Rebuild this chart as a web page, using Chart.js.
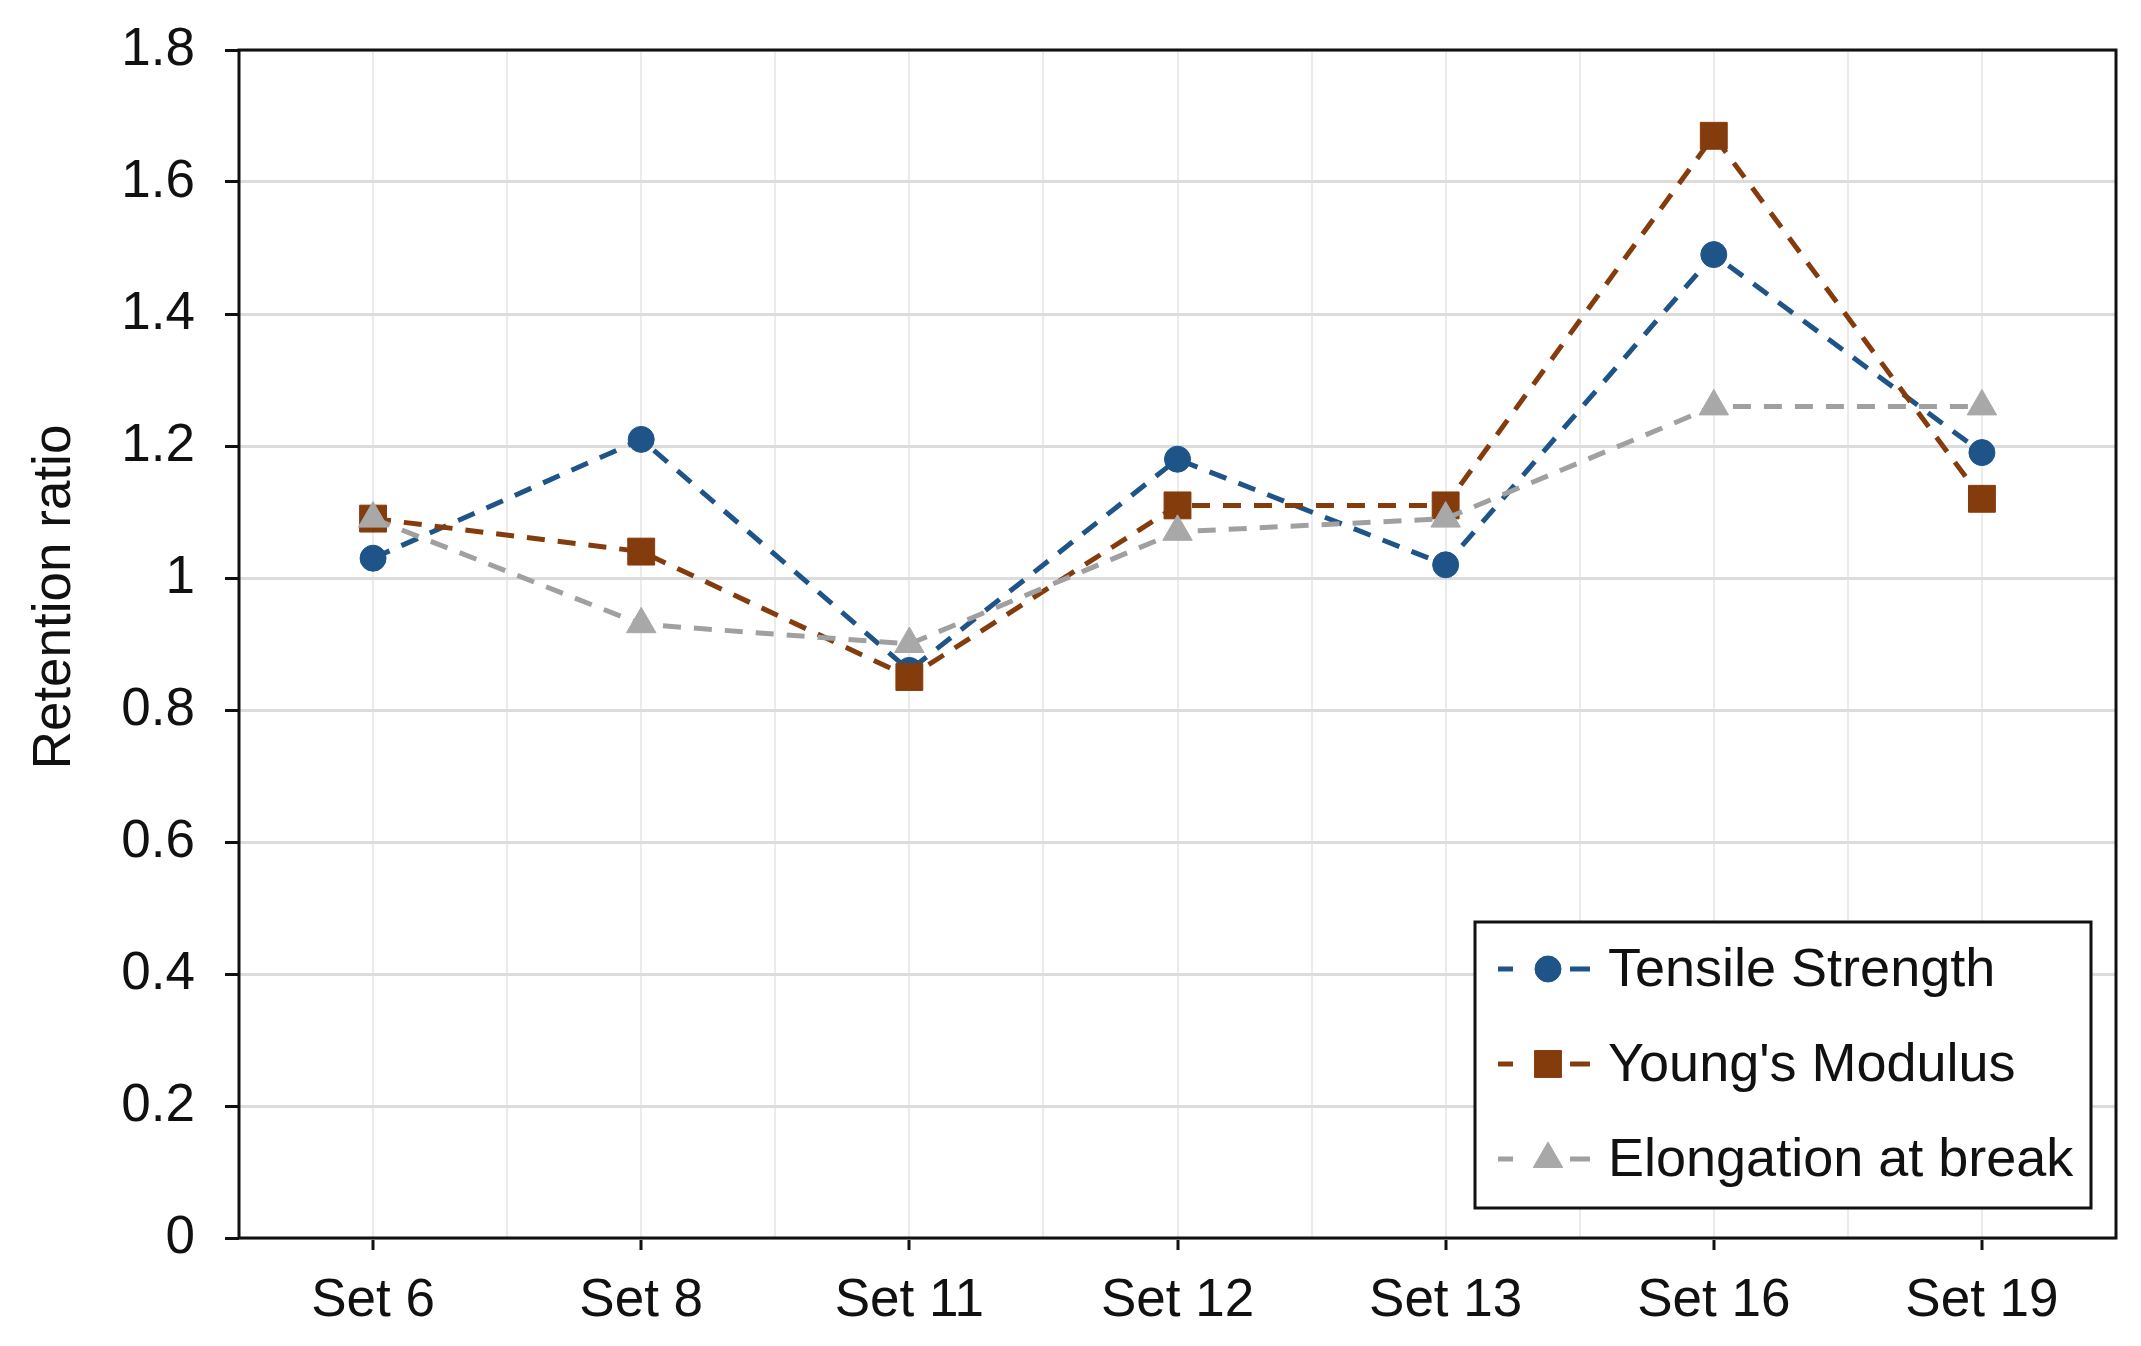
<!DOCTYPE html>
<html lang="en">
<head>
    <meta charset="UTF-8">
    <title>Retention ratio</title>
    <script src="https://cdn.jsdelivr.net/npm/chart.js"></script>
    <style>
        html, body { margin: 0; padding: 0; background: #fff; }
    </style>
</head>
<body>
    <canvas id="retentionChart" width="2141" height="1346"></canvas>
    <script>
        // categories and series
        const sets = ['Set 6', 'Set 8', 'Set 11', 'Set 12', 'Set 13', 'Set 16', 'Set 19'];
        const tensileStrength = [1.03, 1.21, 0.86, 1.18, 1.02, 1.49, 1.19];
        const youngsModulus = [1.09, 1.04, 0.85, 1.11, 1.11, 1.67, 1.12];
        const elongationAtBreak = [1.09, 0.93, 0.90, 1.07, 1.09, 1.26, 1.26];
        const yTicks = { min: 0, max: 1.8, step: 0.2 };
        const yTitle = 'Retention ratio';

        const FONT = '"Liberation Sans", Arial, sans-serif';
        const DASH = [18, 13];

        // black box around the plot area
        const framePlugin = {
            id: 'frame',
            beforeDatasetsDraw(chart) {
                const { ctx, chartArea: a } = chart;
                ctx.save();
                ctx.strokeStyle = '#111';
                ctx.lineWidth = 3;
                ctx.strokeRect(a.left, a.top, a.right - a.left, a.bottom - a.top);
                ctx.restore();
            }
        };

        // rotated y title, sits a little above the middle like in the figure
        const yTitlePlugin = {
            id: 'yTitle',
            afterDraw(chart) {
                const { ctx, chartArea: a } = chart;
                ctx.save();
                ctx.translate(55, (a.top + a.bottom) / 2 - 47);
                ctx.rotate(-Math.PI / 2);
                ctx.fillStyle = '#111';
                ctx.font = '53px ' + FONT;
                ctx.textAlign = 'center';
                ctx.textBaseline = 'middle';
                ctx.fillText(yTitle, 0, 0);
                ctx.restore();
            }
        };

        // legend with dashed line + marker, boxed, bottom right inside the plot
        const boxLegend = {
            id: 'boxLegend',
            afterDraw(chart) {
                const { ctx, chartArea: a } = chart;
                const w = 616, h = 286;
                const x0 = a.right - 25 - w, y0 = a.bottom - 30 - h;
                ctx.save();
                ctx.fillStyle = '#fff';
                ctx.fillRect(x0, y0, w, h);
                ctx.strokeStyle = '#111';
                ctx.lineWidth = 3;
                ctx.strokeRect(x0, y0, w, h);
                chart.data.datasets.forEach((ds, i) => {
                    const cy = y0 + 47 + i * 95;
                    const lx = x0 + 23, mx = x0 + 73;
                    ctx.strokeStyle = ds.borderColor;
                    ctx.lineWidth = ds.borderWidth;
                    ctx.setLineDash([]);
                    ctx.beginPath();
                    ctx.moveTo(lx, cy); ctx.lineTo(lx + 15, cy);
                    ctx.moveTo(mx + 22, cy); ctx.lineTo(mx + 42, cy);
                    ctx.stroke();
                    ctx.fillStyle = ds.pointBackgroundColor;
                    ctx.strokeStyle = ds.pointBackgroundColor;
                    ctx.lineWidth = 1;
                    Chart.helpers.drawPoint(ctx, {
                        pointStyle: ds.pointStyle,
                        radius: ds.pointRadius,
                        rotation: 0,
                        borderWidth: 1
                    }, mx, cy);
                    ctx.fillStyle = '#111';
                    ctx.font = '54px ' + FONT;
                    ctx.textBaseline = 'middle';
                    ctx.fillText(ds.label, x0 + 133, cy + 2);
                });
                ctx.restore();
            }
        };

        const ctx = document.getElementById('retentionChart').getContext('2d');
        const chart = new Chart(ctx, {
            type: 'line',
            data: {
                labels: sets,
                datasets: [{
                    label: 'Tensile Strength',
                    data: tensileStrength,
                    borderColor: '#1f5488',
                    pointBackgroundColor: '#1f5488',
                    pointBorderColor: '#1f5488',
                    pointStyle: 'circle',
                    pointRadius: 13,
                    order: 3
                }, {
                    label: "Young's Modulus",
                    data: youngsModulus,
                    borderColor: '#843c0c',
                    pointBackgroundColor: '#843c0c',
                    pointBorderColor: '#843c0c',
                    pointStyle: 'rect',
                    pointRadius: 19,
                    order: 2
                }, {
                    label: 'Elongation at break',
                    data: elongationAtBreak,
                    borderColor: '#a0a0a0',
                    pointBackgroundColor: '#a8a8a8',
                    pointBorderColor: '#a8a8a8',
                    pointStyle: 'triangle',
                    pointRadius: 17,
                    order: 1
                }].map(d => Object.assign({
                    borderWidth: 5,
                    borderDash: DASH,
                    pointBorderWidth: 1,
                    pointHoverRadius: d.pointRadius,
                    fill: false,
                    tension: 0
                }, d))
            },
            options: {
                responsive: false,
                animation: false,
                layout: { padding: { top: 50, right: 25, left: 0, bottom: 0 } },
                plugins: {
                    legend: { display: false },
                    tooltip: { enabled: false }
                },
                scales: {
                    x: {
                        type: 'category',
                        position: 'bottom',
                        offset: true,
                        grid: {
                            offset: false,
                            color: '#ebebeb',
                            lineWidth: 2,
                            tickColor: '#111',
                            tickLength: 12,
                            tickWidth: 3
                        },
                        border: { display: false },
                        ticks: {
                            color: '#111',
                            font: { family: FONT, size: 53 },
                            padding: 20,
                            maxRotation: 0
                        },
                        afterFit(scale) { scale.height = 108; }
                    },
                    xBetween: {
                        type: 'category',
                        position: 'top',
                        offset: true,
                        grid: {
                            offset: true,
                            color: '#ebebeb',
                            lineWidth: 2,
                            drawTicks: false
                        },
                        border: { display: false },
                        ticks: { display: false },
                        afterFit(scale) { scale.height = 0; }
                    },
                    y: {
                        min: yTicks.min,
                        max: yTicks.max,
                        grid: {
                            color: '#dcdcdc',
                            lineWidth: 3,
                            tickColor: '#111',
                            tickLength: 14,
                            tickWidth: 3
                        },
                        border: { display: false },
                        ticks: {
                            stepSize: yTicks.step,
                            color: '#111',
                            font: { family: FONT, size: 53 },
                            padding: 30,
                            callback: v => String(Number(v.toFixed(1)))
                        },
                        afterFit(scale) {
                            scale.width = 239;
                            scale.paddingTop = 0;
                            scale.paddingBottom = 0;
                        }
                    }
                }
            },
            plugins: [framePlugin, yTitlePlugin, boxLegend]
        });
    </script>
</body>
</html>
